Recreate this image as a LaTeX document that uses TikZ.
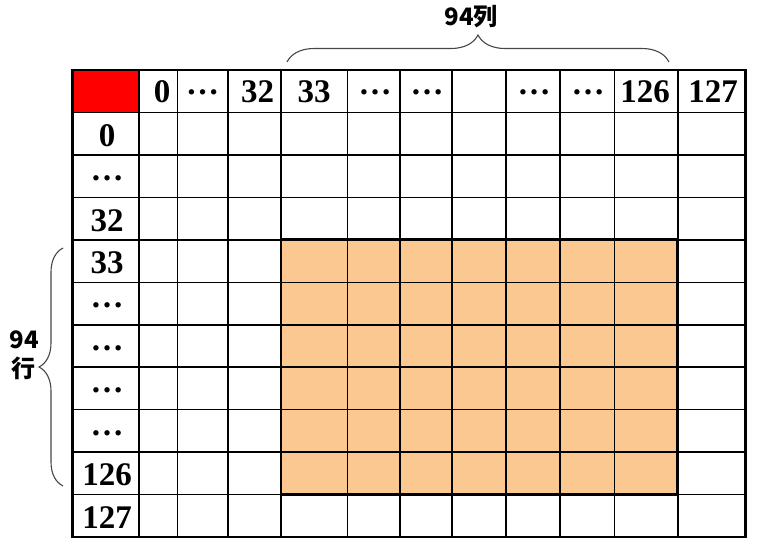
\documentclass[tikz,border=0pt]{standalone}
\usepackage{fontspec}
\setmainfont{Liberation Serif}
\newfontfamily\cjk{Noto Sans CJK SC}
\usetikzlibrary{decorations.pathreplacing}
\definecolor{cellorange}{RGB}{252,200,146}
\definecolor{cellred}{RGB}{255,0,0}
\definecolor{bracegray}{RGB}{70,70,70}
\tikzset{
  gridline/.style={line width=1.6pt, black},
  boldline/.style={line width=2.8pt, black},
  numlabel/.style={font=\fontsize{33}{33}\selectfont\bfseries, inner sep=0pt, anchor=center},
  bracelabel/.style={font=\cjk\bfseries\fontsize{24}{29}\selectfont, inner sep=0pt, align=center},
  bracestyle/.style={line width=1.1pt, bracegray, decorate, decoration={brace, amplitude=#1}}
}
\begin{document}
\begin{tikzpicture}[x=1pt,y=-1pt]
\useasboundingbox (0,0) rectangle (760,550);
% fills
\fill[cellred] (72.7,70) rectangle (139,112.5);
\fill[cellorange] (281,239.8) rectangle (677.7,494.5);
% grid lines
\foreach \x in {139,177.3,227.7,281,347.3,400,451.7,506,560,614.3,677.7}
  \draw[gridline] (\x,70) -- (\x,537);
\foreach \y in {112.5,155,197.3,239.8,282.3,324.7,367,409.6,452,494.5}
  \draw[gridline] (72.7,\y) -- (745.5,\y);
% borders
\draw[boldline] (281,239.8) rectangle (677.7,494.5);
\draw[boldline] (72.7,70) rectangle (745.5,537);
% header labels
\foreach \t/\xc [count=\i] in {0/162, \ldots/202.5, 32/257.5, 33/314.2, \ldots/375, \ldots/427, {}/478.9, \ldots/534, \ldots/588, 126/645, 127/713}
  \node[numlabel] (h\i) at (\xc,92) {\t};
% row labels
\foreach \t/\yc [count=\i] in {0/135.5, \ldots/178, 32/220.5, 33/263, \ldots/305.5, \ldots/348, \ldots/390.3, \ldots/432.8, 126/475, 127/517.5}
  \node[numlabel] (r\i) at (107,\yc) {\t};
% braces
\coordinate (tb1) at (287,62);
\coordinate (tb2) at (669,62);
\draw[bracestyle=27pt] (tb1) -- (tb2);
\node[bracelabel] (collabel) at (471,17) {94列};
\coordinate (lb1) at (63,486);
\coordinate (lb2) at (63,248);
\draw[bracestyle=24pt] (lb1) -- (lb2);
\node[bracelabel] (rowlabel) at (24,355) {94\\行};
\end{tikzpicture}
\end{document}
